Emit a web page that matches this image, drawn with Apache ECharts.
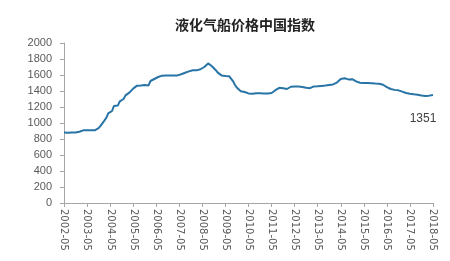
<!DOCTYPE html>
<html><head><meta charset="utf-8">
<script src="https://cdn.jsdelivr.net/npm/echarts@6/dist/echarts.min.js"></script>
<style>html,body{margin:0;padding:0;background:#fff}#c{width:450px;height:261px}</style>
</head><body><div id="c"></div>
<script>
var title = '液化气船价格中国指数';
var startYear = 2002, startMonth = 5;
var values = [
880,880,878,880,880,882,882,890,890,893,908,908,
908,908,908,908,908,908,935,965,990,1030,1065,1120,
1145,1150,1213,1215,1218,1270,1280,1300,1345,1360,1380,1405,
1430,1455,1467,1468,1468,1470,1475,1450,1470,1525,1540,1550,
1562,1575,1588,1592,1594,1595,1595,1595,1595,1595,1595,1595,
1597,1610,1620,1628,1635,1645,1655,1660,1663,1658,1656,1672,
1688,1700,1715,1745,1750,1710,1685,1660,1630,1605,1595,1590,
1588,1585,1583,1580,1520,1475,1440,1415,1398,1392,1388,1385,
1370,1360,1365,1372,1372,1372,1372,1371,1370,1370,1370,1368,
1375,1390,1410,1428,1440,1442,1435,1420,1425,1450,1453,1455,
1456,1456,1455,1452,1450,1446,1440,1436,1435,1450,1457,1458,
1460,1462,1464,1465,1468,1472,1475,1478,1482,1486,1505,1525,
1550,1572,1560,1540,1545,1547,1548,1548,1520,1508,1503,1502,
1500,1500,1499,1498,1498,1496,1494,1492,1491,1490,1478,1462,
1448,1435,1425,1418,1414,1411,1408,1400,1392,1383,1375,1368,
1365,1362,1358,1355,1352,1348,1343,1340,1338,1340,1342,1346,
1351
];
var lastLabel = '1351';
var categories = [];
for (var i = 0; i < values.length; i++) {
  var mm = startMonth - 1 + i;
  var y = startYear + Math.floor(mm / 12);
  var m = (mm % 12) + 1;
  categories.push(y + '-' + (m < 10 ? '0' + m : m));
}
var lastIdx = values.length - 1;
var chart = echarts.init(document.getElementById('c'), null, {renderer: 'canvas'});
chart.setOption({
  animation: false,
  backgroundColor: '#fff',
  title: {text: title, left: 170, top: 13,
    textStyle: {fontSize: 14, fontWeight: 'bold', color: '#222', fontFamily: 'Noto Sans CJK SC'}},
  grid: {left: 64, right: 17, top: 43, bottom: 58},
  xAxis: {
    type: 'category', data: categories, boundaryGap: false,
    axisLine: {lineStyle: {color: '#a6a6a6', width: 1}},
    axisTick: {show: true, interval: 11, length: 4, lineStyle: {color: '#a6a6a6'}},
    axisLabel: {interval: 11, rotate: -90, fontSize: 10, color: '#595959', margin: 6,
      fontFamily: 'DejaVu Sans, sans-serif'}
  },
  yAxis: {
    type: 'value', min: 0, max: 2000, interval: 200,
    axisLine: {show: true, lineStyle: {color: '#a6a6a6'}},
    axisTick: {show: true, length: 4, inside: false, lineStyle: {color: '#a6a6a6'}},
    splitLine: {show: false},
    axisLabel: {fontSize: 11, color: '#595959', margin: 12, formatter: function (v) { return String(v); },
      fontFamily: 'Liberation Sans, Arial, sans-serif'}
  },
  series: [{
    type: 'line', data: values, showSymbol: false, symbol: 'none',
    lineStyle: {color: '#2874a6', width: 2},
    itemStyle: {color: '#2874a6'},
    markPoint: {
      symbol: 'circle', symbolSize: 1, itemStyle: {color: 'rgba(0,0,0,0)'},
      data: [{coord: [categories[lastIdx], values[lastIdx]], value: lastLabel}],
      label: {show: true, position: 'inside', offset: [-10, 24], formatter: lastLabel,
        fontSize: 12, color: '#404040', fontFamily: 'Liberation Sans, Arial, sans-serif'}
    }
  }]
});
</script></body></html>
